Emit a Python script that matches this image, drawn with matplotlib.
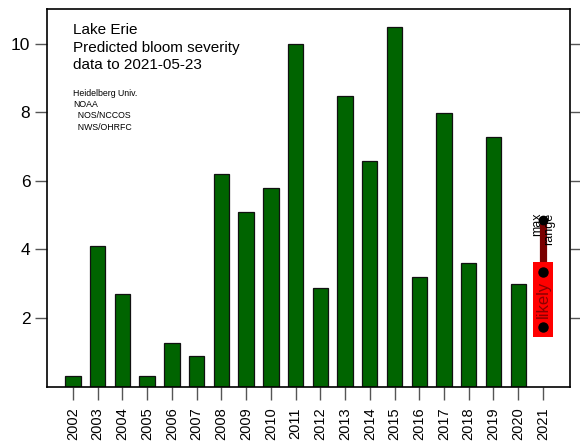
import matplotlib
matplotlib.use("Agg")
import matplotlib.pyplot as plt

years = [str(y) for y in range(2002, 2022)]
severity = [0.3, 4.1, 2.7, 0.3, 1.28, 0.88, 6.2, 5.1, 5.8, 10.0,
            2.88, 8.48, 6.58, 10.49, 3.19, 7.99, 3.6, 7.29, 3.0]
likely_low, likely_high = 1.44, 3.64
likely_dots = [1.74, 3.35]
max_range = 4.86
yticks = [2, 4, 6, 8, 10]

plt.rcParams['font.family'] = ['Liberation Sans', 'DejaVu Sans']

fig = plt.figure(figsize=(5.8, 4.45), dpi=100)
ax = fig.add_axes([0.081, 0.1312, 0.902, 0.8475])

x = list(range(len(years)))
ax.bar(x[:len(severity)], severity, width=0.62, color='#006400',
       edgecolor='#111111', linewidth=0.9, zorder=2)

# 2021 prediction
xi = x[-1]
ax.plot([xi, xi], [likely_high, max_range], color='#7a0000', lw=5.2,
        solid_capstyle='butt', zorder=3)
ax.plot([xi], [max_range], 'o', color='black', ms=6, zorder=4)
ax.bar([xi], [likely_high - likely_low], bottom=likely_low, width=0.83,
       color='#ff0000', edgecolor='none', zorder=3)
ax.plot([xi, xi], likely_dots, 'o', color='black', ms=6.5, ls='none', zorder=4)
ax.text(xi, (likely_low + likely_high) / 2, 'likely', rotation=90,
        ha='center', va='center', fontsize=12, color='#8b0000', zorder=5)
ax.text(xi, 5.08, 'max\nrange', rotation=90, ha='center', va='top',
        multialignment='right', fontsize=9, color='black', linespacing=1.0,
        zorder=5)

ax.set_xlim(-1.05, 20.1)
ax.set_ylim(0, 11)
ax.set_xticks(x)
ax.set_xticklabels(years, rotation=90, fontsize=10.5)
ax.set_yticks(yticks)
ax.set_yticklabels([str(v) for v in yticks], fontsize=12.5)
ax.tick_params(axis='both', direction='out', length=9, width=1,
               color='#555555', pad=3)
ax.tick_params(axis='x', pad=6)
ax.tick_params(axis='y', right=True, which='both')
for s in ax.spines.values():
    s.set_linewidth(1.2)
    s.set_color('black')

fig.text(73 / 580, 1 - 23 / 445,
         'Lake Erie\nPredicted bloom severity\ndata to 2021-05-23',
         ha='left', va='top', fontsize=11, linespacing=1.34)
fig.text(73 / 580, 1 - 89 / 445,
         'Heidelberg Univ.\nNOAA\n  NOS/NCCOS\n  NWS/OHRFC',
         ha='left', va='top', fontsize=6.3, linespacing=1.32)

fig.savefig('out.png', dpi=100)
